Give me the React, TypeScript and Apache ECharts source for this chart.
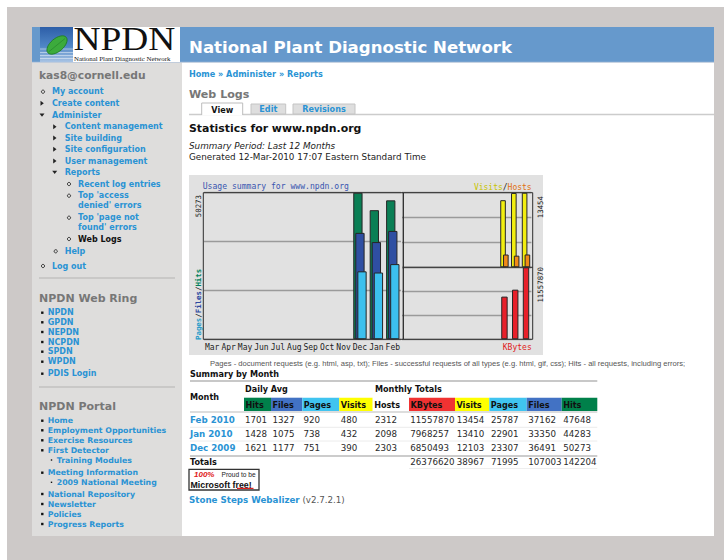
import React, { useEffect, useRef } from 'react';
import * as echarts from 'echarts';

// ---------- data ----------
const chartMonths = ['Mar', 'Apr', 'May', 'Jun', 'Jul', 'Aug', 'Sep', 'Oct', 'Nov', 'Dec', 'Jan', 'Feb'];
const hitsByMonth = [null, null, null, null, null, null, null, null, null, 50273, 44283, 47648];
const filesByMonth = [null, null, null, null, null, null, null, null, null, 36491, 33350, 37162];
const pagesByMonth = [null, null, null, null, null, null, null, null, null, 23307, 22901, 25787];
const visitsByMonth = [null, null, null, null, null, null, null, null, null, 12103, 13410, 13454];
const hostsByMonth = [null, null, null, null, null, null, null, null, null, 2303, 2098, 2312];
const kbytesByMonth = [null, null, null, null, null, null, null, null, null, 6850493, 7968257, 11557870];

const tableMonths = ['Feb 2010', 'Jan 2010', 'Dec 2009'];
const dailyHits = [1701, 1428, 1621];
const dailyFiles = [1327, 1075, 1177];
const dailyPages = [920, 738, 751];
const dailyVisits = [480, 432, 390];
const monthlyHosts = [2312, 2098, 2303];
const monthlyKBytes = [11557870, 7968257, 6850493];
const monthlyVisits = [13454, 13410, 12103];
const monthlyPages = [25787, 22901, 23307];
const monthlyFiles = [37162, 33350, 36491];
const monthlyHits = [47648, 44283, 50273];
const totalsRow = [26376620, 38967, 71995, 107003, 142204];
const headerLabels = ['Hits', 'Files', 'Pages', 'Visits', 'Hosts', 'KBytes', 'Visits', 'Pages', 'Files', 'Hits'];

const adminMenu = ['My account', 'Create content', 'Administer', 'Content management', 'Site building',
  'Site configuration', 'User management', 'Reports', 'Recent log entries', "Top 'access", "denied' errors",
  "Top 'page not", "found' errors", 'Web Logs', 'Help', 'Log out'];
const webRing = ['NPDN', 'GPDN', 'NEPDN', 'NCPDN', 'SPDN', 'WPDN', 'PDIS Login'];
const portal = ['Home', 'Employment Opportunities', 'Exercise Resources', 'First Detector', 'Training Modules',
  'Meeting Information', '2009 National Meeting', 'National Repository', 'Newsletter', 'Policies', 'Progress Reports'];

// ---------- styling helpers ----------
const SANS = '"DejaVu Sans", Verdana, sans-serif';
const MONO = '"DejaVu Sans Mono", monospace';
const ARIAL = '"Liberation Sans", Arial, sans-serif';
const SERIF = '"Liberation Serif", "DejaVu Serif", serif';
const LINK = '#2a93d4';
const HEAD_GRAY = '#777777';

function txt(x: number, y: number, text: string, o: any = {}) {
  const align = o.align ?? 'left';
  const va = o.va ?? 'middle';
  return {
    type: 'text', x, y, z: o.z ?? 20, silent: true, rotation: o.rotation ?? 0,
    scaleX: o.scaleX ?? 1, scaleY: o.scaleY ?? 1,
    style: {
      text, fill: o.color ?? '#222222', fontFamily: o.family ?? SANS, fontSize: o.size ?? 8.7,
      fontWeight: o.weight ?? 'normal', fontStyle: o.fstyle ?? 'normal',
      align, verticalAlign: va, textAlign: align, textVerticalAlign: va,
      ...(o.rich ? { rich: o.rich } : {}),
    },
  };
}
function rect(x1: number, y1: number, x2: number, y2: number, fill: any, o: any = {}) {
  return {
    type: 'rect', z: o.z ?? 1, silent: true,
    shape: { x: x1, y: y1, width: x2 - x1, height: y2 - y1 },
    style: { fill, stroke: o.stroke ?? null, lineWidth: o.lw ?? 1 },
  };
}
function line(x1: number, y1: number, x2: number, y2: number, stroke: string, lw = 1, z = 2) {
  return { type: 'line', z, silent: true, shape: { x1, y1, x2, y2 }, style: { stroke, lineWidth: lw } };
}
function bulletCircle(x: number, y: number) {
  return { type: 'circle', z: 20, silent: true, shape: { cx: x, cy: y, r: 1.6 }, style: { fill: 'none', stroke: '#333', lineWidth: 1 } };
}
function bulletSquare(x: number, y: number, s = 2.4) {
  return rect(x - s / 2, y - s / 2, x + s / 2, y + s / 2, '#111', { z: 20 });
}
function triRight(x: number, y: number) {
  return { type: 'polygon', z: 20, silent: true, shape: { points: [[x - 1.5, y - 2.5], [x + 1.8, y], [x - 1.5, y + 2.5]] }, style: { fill: '#222' } };
}
function triDown(x: number, y: number) {
  return { type: 'polygon', z: 20, silent: true, shape: { points: [[x - 2.5, y - 1.5], [x + 2.5, y - 1.5], [x, y + 1.8]] }, style: { fill: '#222' } };
}

function buildGraphics() {
  const g: any[] = [];
  // page backgrounds
  g.push(rect(7, 7, 724, 560, '#cdc9c8', { z: -5 }));
  g.push(rect(182, 62, 714, 536, '#ffffff', { z: -4 }));
  g.push(rect(32, 62, 182, 536, '#deddDC', { z: -4 }));
  g.push(rect(32, 27, 714, 62, '#6699cc', { z: -4 }));
  g.push(line(32, 62.3, 714, 62.3, '#b9c9db', 1, -3));

  // logo
  g.push(rect(40, 27, 73, 62, {
    type: 'linear', x: 0, y: 0, x2: 0, y2: 1,
    colorStops: [{ offset: 0, color: '#2d5ea8' }, { offset: 0.55, color: '#4f86c6' }, { offset: 1, color: '#a9c4e4' }],
  }, { z: -3 }));
  [49, 52.5, 55.5, 58.5].forEach((yy) => g.push(line(40, yy, 73, yy, 'rgba(255,255,255,0.45)', 1, -2)));
  g.push({ type: 'ellipse', z: 0, silent: true, x: 57, y: 45, rotation: 0.7, shape: { cx: 0, cy: 0, rx: 12, ry: 6.5 }, style: { fill: '#3cab3c', stroke: '#1f7a25', lineWidth: 0.8 } });
  g.push({ type: 'line', z: 1, silent: true, shape: { x1: 48.5, y1: 52, x2: 65, y2: 38.5 }, style: { stroke: '#2a8a2e', lineWidth: 0.8 } });
  g.push(rect(73, 27, 180, 62, '#ffffff', { z: -3 }));
  g.push(txt(73.5, 38.2, 'NPDN', { family: SERIF, size: 34, color: '#111', scaleX: 1.1, scaleY: 1.0 }));
  g.push(txt(74, 58.6, 'National Plant Diagnostic Network', { family: SERIF, size: 6.6, color: '#111', scaleX: 1.04 }));

  // header title
  g.push(txt(189, 47.3, 'National Plant Diagnostic Network', { size: 16.6, weight: 'bold', color: '#ffffff' }));

  // ---------- sidebar ----------
  g.push(txt(39, 75, 'kas8@cornell.edu', { size: 10.7, weight: 'bold', color: HEAD_GRAY }));
  const menuX = [52, 52, 52, 64.7, 64.7, 64.7, 64.7, 64.7, 78, 78, 78, 78, 78, 78, 64.7, 52];
  const menuY = [91.7, 103.3, 115, 126.7, 138, 149.3, 161, 172.3, 184, 195.7, 205.3, 217.7, 227.3, 239, 251.3, 266];
  const menuB = ['c', 'r', 'd', 'r', 'r', 'r', 'r', 'd', 'c', 'c', '', 'c', '', 'c', 'c', 'c'];
  adminMenu.forEach((t, i) => {
    const x = menuX[i], y = menuY[i];
    g.push(txt(x, y, t, { size: 8, weight: 'bold', color: t === 'Web Logs' ? '#111' : LINK }));
    const bx = x - 9;
    if (menuB[i] === 'c') g.push(bulletCircle(bx, y));
    if (menuB[i] === 'r') g.push(triRight(bx - 1, y));
    if (menuB[i] === 'd') g.push(triDown(bx - 1, y));
  });
  g.push(line(39, 278, 175, 278, '#c9c8c7', 2));
  g.push(txt(39, 298, 'NPDN Web Ring', { size: 11, weight: 'bold', color: HEAD_GRAY }));
  const ringY = [312.7, 322.3, 332, 342, 351.7, 361.7, 373.7];
  webRing.forEach((t, i) => {
    g.push(txt(47.7, ringY[i], t, { size: 8, weight: 'bold', color: LINK }));
    g.push(bulletSquare(42.3, ringY[i]));
  });
  g.push(line(39, 387, 175, 387, '#c9c8c7', 2));
  g.push(txt(39, 406.7, 'NPDN Portal', { size: 11, weight: 'bold', color: HEAD_GRAY }));
  const portalY = [420.7, 430.3, 440.3, 450.3, 460, 472.7, 482.3, 494, 504, 514, 524];
  portal.forEach((t, i) => {
    const sub = t === 'Training Modules' || t === '2009 National Meeting';
    const x = sub ? 56.7 : 47.7;
    g.push(txt(x, portalY[i], t, { size: 7.8, weight: 'bold', color: LINK }));
    if (sub) g.push(bulletSquare(51.5, portalY[i], 1.4));
    else g.push(bulletSquare(42.3, portalY[i]));
  });

  // ---------- main column ----------
  g.push(txt(189, 74.3, 'Home » Administer » Reports', { size: 8.1, weight: 'bold', color: LINK }));
  g.push(txt(189, 94, 'Web Logs', { size: 11.1, weight: 'bold', color: HEAD_GRAY }));
  g.push(line(189, 114.5, 714, 114.5, '#cccccc', 1.5, 2));
  g.push(rect(251, 104, 285.7, 114, '#dedede', { stroke: '#c4c4c4', z: 3 }));
  g.push(rect(293, 104, 355, 114, '#dedede', { stroke: '#c4c4c4', z: 3 }));
  g.push(rect(201.7, 103, 242.7, 115.5, '#ffffff', { z: 3 }));
  g.push({ type: 'polyline', z: 4, silent: true, shape: { points: [[201.7, 115], [201.7, 103], [242.7, 103], [242.7, 115]] }, style: { stroke: '#bdbdbd', lineWidth: 1, fill: null } });
  g.push(txt(222.2, 109.5, 'View', { size: 8.1, weight: 'bold', color: '#111', align: 'center' }));
  g.push(txt(268.3, 109.3, 'Edit', { size: 8.1, weight: 'bold', color: LINK, align: 'center' }));
  g.push(txt(324, 109.3, 'Revisions', { size: 8.1, weight: 'bold', color: LINK, align: 'center' }));
  g.push(txt(189, 128.3, 'Statistics for www.npdn.org', { size: 10.9, weight: 'bold', color: '#111' }));
  g.push(txt(189, 145.7, 'Summary Period: Last 12 Months', { size: 8.8, fstyle: 'italic', color: '#222' }));
  g.push(txt(189, 157.3, 'Generated 12-Mar-2010 17:07 Eastern Standard Time', { size: 8.8, color: '#222' }));

  // chart panel
  g.push(rect(189, 175, 543, 355, '#e1e1e1', { z: -1 }));
  g.push(rect(203.3, 192.7, 403.3, 339.3, 'none', { stroke: '#2e2e2e', z: 5 }));
  g.push(rect(403.3, 192.7, 532.7, 339.3, 'none', { stroke: '#2e2e2e', z: 5 }));
  g.push(line(403.3, 267.3, 532.7, 267.3, '#2e2e2e', 1, 5));
  g.push(txt(202.7, 186, 'Usage summary for www.npdn.org', { family: MONO, size: 8.1, color: '#3a56b0' }));
  g.push(txt(198, 195, '50273', { family: MONO, size: 7.4, color: '#222', rotation: Math.PI / 2, align: 'right' }));
  g.push(txt(198, 340, '{p|Pages}{s|/}{f|Files}{s|/}{h|Hits}', {
    family: MONO, size: 7.4, rotation: Math.PI / 2, align: 'left',
    rich: {
      p: { fill: '#2a9cc8', fontFamily: MONO, fontSize: 7.4, fontWeight: 'bold' },
      s: { fill: '#222', fontFamily: MONO, fontSize: 7.4, fontWeight: 'bold' },
      f: { fill: '#2e4aa0', fontFamily: MONO, fontSize: 7.4, fontWeight: 'bold' },
      h: { fill: '#00805a', fontFamily: MONO, fontSize: 7.4, fontWeight: 'bold' },
    },
  }));
  g.push(txt(531.7, 187.3, '{v|Visits}{s|/}{h|Hosts}', {
    family: MONO, size: 8, align: 'right',
    rich: {
      v: { fill: '#c8c400', fontFamily: MONO, fontSize: 8 },
      s: { fill: '#222', fontFamily: MONO, fontSize: 8 },
      h: { fill: '#e07010', fontFamily: MONO, fontSize: 8 },
    },
  }));
  g.push(txt(531.7, 347.7, 'KBytes', { family: MONO, size: 8, color: '#e02020', align: 'right' }));
  g.push(txt(540.5, 196, '13454', { family: MONO, size: 7.4, color: '#222', rotation: Math.PI / 2, align: 'right' }));
  g.push(txt(540.5, 267, '11557870', { family: MONO, size: 7.4, color: '#222', rotation: Math.PI / 2, align: 'right' }));

  g.push(txt(210, 363.3, 'Pages - document requests (e.g. html, asp, txt); Files - successful requests of all types (e.g. html, gif, css); Hits - all requests, including errors;', {
    family: ARIAL, size: 7.6, color: '#555',
  }));

  // ---------- summary table ----------
  g.push(txt(190, 374, 'Summary by Month', { size: 8.1, weight: 'bold', color: '#111' }));
  g.push(line(190, 381, 597.3, 381, '#c8c8c8', 2));
  g.push(txt(245, 389.3, 'Daily Avg', { size: 8.1, weight: 'bold', color: '#111' }));
  g.push(txt(375, 389.3, 'Monthly Totals', { size: 8.1, weight: 'bold', color: '#111' }));
  g.push(txt(190, 396.7, 'Month', { size: 8.1, weight: 'bold', color: '#111' }));
  const hb = [244, 271, 302.3, 339.3, 372.7, 409, 455, 489.3, 526.7, 561.7, 597.3];
  const hc = ['#00804a', '#4272c4', '#40c4f0', '#ffff00', '#ffffff', '#f03232', '#ffff00', '#40c4f0', '#4272c4', '#00804a'];
  headerLabels.forEach((t, i) => {
    g.push(rect(hb[i], 397.7, hb[i + 1], 411, hc[i], { z: 2 }));
    g.push(txt(hb[i] + 1.5, 404.5, t, { size: 8.1, weight: 'bold', color: '#111' }));
  });
  g.push(line(190, 412, 597.3, 412, '#d2d2d2', 1.5));
  const colX = [245, 272.5, 303.5, 340.7, 375, 410.3, 456.7, 491, 528.3, 563.3];
  const rowY = [420.3, 434, 448.3];
  tableMonths.forEach((m, r) => {
    g.push(txt(190, rowY[r], m, { size: 8.7, weight: 'bold', color: LINK }));
    const vals = [dailyHits[r], dailyFiles[r], dailyPages[r], dailyVisits[r], monthlyHosts[r],
      monthlyKBytes[r], monthlyVisits[r], monthlyPages[r], monthlyFiles[r], monthlyHits[r]];
    vals.forEach((v, c) => g.push(txt(colX[c], rowY[r], String(v), { size: 8.7, color: '#2a2a2a' })));
    if (r < 2) g.push(line(190, rowY[r] + 7, 597.3, rowY[r] + 7, '#ececec', 1));
  });
  g.push(line(190, 456, 597.3, 456, '#cccccc', 2));
  g.push(txt(190, 462, 'Totals', { size: 8.1, weight: 'bold', color: '#111' }));
  totalsRow.forEach((v, i) => g.push(txt(colX[5 + i], 462, String(v), { size: 8.7, color: '#2a2a2a' })));
  g.push(line(409, 468.5, 597.3, 468.5, '#eeeeee', 1));

  // badge
  g.push(rect(189, 469.3, 259, 490, '#ffffff', { stroke: '#333', lw: 1.3, z: 3 }));
  g.push(txt(194, 474.3, '100%', { size: 8, weight: 'bold', fstyle: 'italic', color: '#e02020', family: ARIAL }));
  g.push(txt(221.5, 474.8, 'Proud to be', { size: 6.6, color: '#222', family: ARIAL }));
  g.push(txt(190.5, 484.6, 'Microsoft free!', { size: 8.8, weight: 'bold', color: '#111', family: ARIAL }));
  g.push(line(237, 488.4, 253.5, 488.4, '#e02020', 1.2, 21));

  g.push(txt(189, 500, '{a|Stone Steps Webalizer} {b|(v2.7.2.1)}', {
    size: 8.7,
    rich: {
      a: { fill: LINK, fontFamily: SANS, fontSize: 8.7, fontWeight: 'bold' },
      b: { fill: '#555', fontFamily: SANS, fontSize: 8.7 },
    },
  }));
  return g;
}

function buildOption() {
  const barItem = (color: string) => ({ color, borderColor: '#262626', borderWidth: 1 });
  const yAx = (gridIndex: number, max: number) => ({
    type: 'value', gridIndex, min: 0, max, interval: max / 3,
    axisLine: { show: false }, axisTick: { show: false }, axisLabel: { show: false },
    splitLine: { show: true, lineStyle: { color: '#9a9a9a', width: 1.3 } },
  });
  const xAx = (gridIndex: number, showLabels: boolean) => ({
    type: 'category', gridIndex, data: chartMonths,
    axisLine: { show: false }, axisTick: { show: false },
    axisLabel: { show: showLabels, interval: 0, margin: 4, fontFamily: MONO, fontSize: 8, color: '#222' },
  });
  return {
    animation: false,
    backgroundColor: '#ffffff',
    grid: [
      { left: 204, top: 192.7, width: 197, height: 146.6 },
      { left: 402, top: 192.7, width: 129.4, height: 74.6 },
      { left: 402, top: 267.3, width: 129.4, height: 72 },
    ],
    xAxis: [xAx(0, true), xAx(1, false), xAx(2, false)],
    yAxis: [yAx(0, 50273), yAx(1, 13454), yAx(2, 11557870)],
    series: [
      { type: 'bar', name: 'Hits', xAxisIndex: 0, yAxisIndex: 0, data: hitsByMonth, barWidth: 9.3, barGap: '-78%', itemStyle: barItem('#0a7f55') },
      { type: 'bar', name: 'Files', xAxisIndex: 0, yAxisIndex: 0, data: filesByMonth, barWidth: 9.3, barGap: '-78%', itemStyle: barItem('#2f4fa2') },
      { type: 'bar', name: 'Pages', xAxisIndex: 0, yAxisIndex: 0, data: pagesByMonth, barWidth: 9.3, barGap: '-78%', itemStyle: barItem('#3cc0ee') },
      { type: 'bar', name: 'Visits', xAxisIndex: 1, yAxisIndex: 1, data: visitsByMonth, barWidth: 5.6, barGap: '-50%', itemStyle: barItem('#f2ee10') },
      { type: 'bar', name: 'Hosts', xAxisIndex: 1, yAxisIndex: 1, data: hostsByMonth, barWidth: 5.6, barGap: '-50%', itemStyle: barItem('#f08a18') },
      { type: 'bar', name: 'KBytes', xAxisIndex: 2, yAxisIndex: 2, data: kbytesByMonth, barWidth: 6.4, itemStyle: barItem('#e8202a') },
    ],
    graphic: { elements: buildGraphics() },
  };
}

export default function App() {
  const ref = useRef<HTMLDivElement>(null);
  useEffect(() => {
    if (!ref.current) return;
    const chart = echarts.init(ref.current, null, { renderer: 'svg', width: 724, height: 560 });
    chart.setOption(buildOption() as any);
    return () => chart.dispose();
  }, []);
  return <div ref={ref} style={{ position: 'fixed', left: 0, top: 0, width: 724, height: 560 }} />;
}
